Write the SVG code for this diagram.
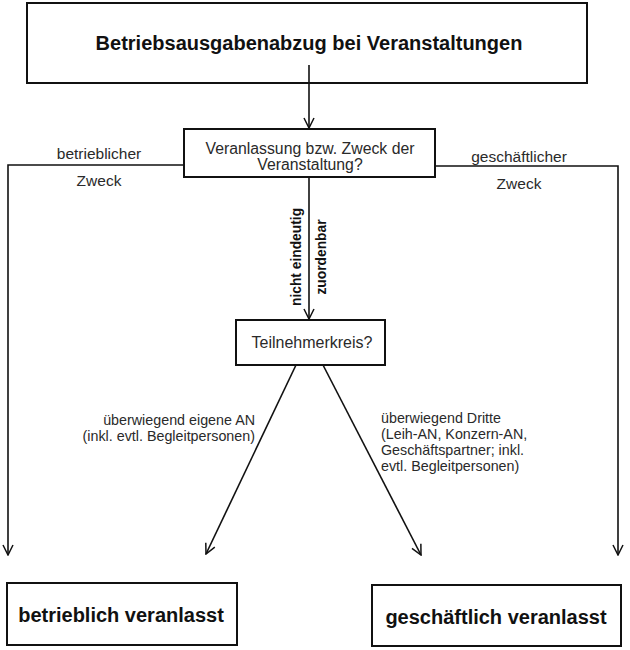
<svg xmlns="http://www.w3.org/2000/svg" width="630" height="650" viewBox="0 0 630 650">
<defs>
<marker id="arr" viewBox="0 0 12 12" refX="11" refY="6" markerWidth="12" markerHeight="12" markerUnits="userSpaceOnUse" orient="auto">
<path d="M1,1 L11,6 L1,11" fill="none" stroke="#111" stroke-width="1.5"/>
</marker>
<style>
.box{fill:#fff;stroke:#111;stroke-width:2}
.ln{fill:none;stroke:#111;stroke-width:1.6}
.t{font-family:"Liberation Sans",Arial,sans-serif;fill:#2a2a2a}
.b{font-weight:bold;fill:#111}
</style>
</defs>
<rect width="630" height="650" fill="#fff"/>
<g id="title">
<rect class="box" x="27" y="3" width="560" height="80"/>
<text class="t b" x="309" y="50" font-size="20" text-anchor="middle">Betriebsausgabenabzug bei Veranstaltungen</text>
</g>
<g id="connectors">
<line class="ln" x1="309" y1="65" x2="309" y2="128" marker-end="url(#arr)"/>
<polyline class="ln" points="183,165 8,165 8,555" marker-end="url(#arr)"/>
<polyline class="ln" points="436,166 618,166 618,555" marker-end="url(#arr)"/>
<line class="ln" x1="309" y1="177" x2="309" y2="319" marker-end="url(#arr)"/>
<line class="ln" x1="296" y1="365" x2="206" y2="554" marker-end="url(#arr)"/>
<line class="ln" x1="323" y1="365" x2="421" y2="555" marker-end="url(#arr)"/>
<text class="t" x="99" y="159" font-size="15.5" text-anchor="middle">betrieblicher</text>
<text class="t" x="99" y="186" font-size="15.5" text-anchor="middle">Zweck</text>
<text class="t" x="519" y="162" font-size="15.5" text-anchor="middle">geschäftlicher</text>
<text class="t" x="519" y="189" font-size="15.5" text-anchor="middle">Zweck</text>
<text class="t b" font-size="13.8" text-anchor="middle" transform="translate(301,257) rotate(-90)">nicht eindeutig</text>
<text class="t b" font-size="13.8" text-anchor="middle" transform="translate(326,257) rotate(-90)">zuordenbar</text>
<text class="t" font-size="14.3" text-anchor="end" x="255" y="425">überwiegend eigene AN</text>
<text class="t" font-size="14.3" text-anchor="end" x="255" y="441">(inkl. evtl. Begleitpersonen)</text>
<text class="t" font-size="14.3" x="381" y="423">überwiegend Dritte</text>
<text class="t" font-size="14.3" x="381" y="439">(Leih-AN, Konzern-AN,</text>
<text class="t" font-size="14.3" x="381" y="455">Geschäftspartner; inkl.</text>
<text class="t" font-size="14.3" x="381" y="471">evtl. Begleitpersonen)</text>
</g>
<g id="zweck">
<rect class="box" x="184" y="129" width="251" height="48"/>
<text class="t" x="310" y="154" font-size="15.8" text-anchor="middle">Veranlassung bzw. Zweck der</text>
<text class="t" x="310" y="170" font-size="15.8" text-anchor="middle">Veranstaltung?</text>
</g>
<g id="teilnehmer">
<rect class="box" x="236" y="320" width="149" height="45"/>
<text class="t" x="312" y="348" font-size="16" text-anchor="middle">Teilnehmerkreis?</text>
</g>
<g id="betrieblich">
<rect class="box" x="7" y="583" width="230" height="62"/>
<text class="t b" x="121" y="622" font-size="20" text-anchor="middle">betrieblich veranlasst</text>
</g>
<g id="geschaeftlich">
<rect class="box" x="372" y="585" width="249" height="61"/>
<text class="t b" x="496" y="624" font-size="20" text-anchor="middle">geschäftlich veranlasst</text>
</g>
</svg>
